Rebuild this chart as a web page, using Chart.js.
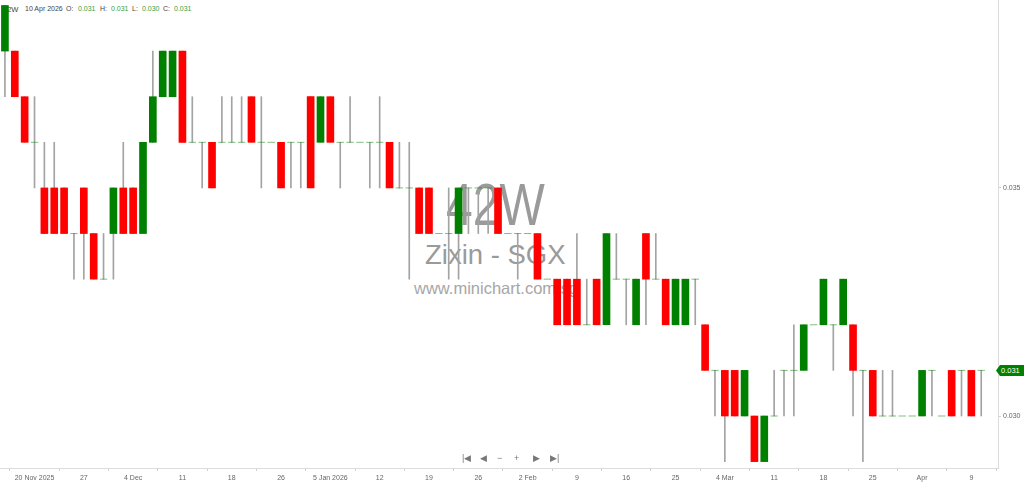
<!DOCTYPE html>
<html>
<head>
<meta charset="utf-8">
<script src="https://cdn.jsdelivr.net/npm/chart.js@4.4.1/dist/chart.umd.min.js"></script>
<style>
  html, body { margin: 0; padding: 0; background: #fff; overflow: hidden; }
  #wrap { position: relative; width: 1024px; height: 484px; font-family: "Liberation Sans", Arial, sans-serif; }
  #chartBox { position: absolute; left: 0; top: 0; width: 1024px; height: 484px; z-index: 2; }
  .wm { position: absolute; z-index: 1; color: #9a9a9a; white-space: nowrap; }
  .hdr { position: absolute; z-index: 1; top: 5px; font-size: 7px; color: #444; white-space: nowrap; }
  .hdr.v { color: #3c9c3c; }
  .nav { position: absolute; z-index: 3; top: 453px; font-size: 9px; color: #777; }
  #tag { position: absolute; z-index: 3; left: 996px; width: 28px; height: 11px; background: #008000; color: #fff;
         font-size: 7.5px; line-height: 11px; padding-left: 5px; box-sizing: border-box;
         clip-path: polygon(0 50%, 4px 0, 100% 0, 100% 100%, 4px 100%); }
</style>
</head>
<body>
<div id="wrap">
  <!-- watermark + header sit under the transparent canvas -->
  <div class="wm" style="left:446px; top:170px; font-size:60px; transform:scaleX(0.8); transform-origin:left;">42W</div>
  <div class="wm" style="left:425px; top:239px; font-size:27.5px;">Zixin - SGX</div>
  <div class="wm" style="left:414px; top:279px; font-size:16.5px; color:#a6a6a6;">www.minichart.com.sg</div>

  <span class="hdr" style="left:3px; font-size:7.5px;">42W</span>
  <span class="hdr" style="left:25px;">10 Apr 2026</span>
  <span class="hdr" style="left:66px;">O:</span>
  <span class="hdr v" style="left:78px;">0.031</span>
  <span class="hdr" style="left:100px;">H:</span>
  <span class="hdr v" style="left:111px;">0.031</span>
  <span class="hdr" style="left:132px;">L:</span>
  <span class="hdr v" style="left:142px;">0.030</span>
  <span class="hdr" style="left:163px;">C:</span>
  <span class="hdr v" style="left:174px;">0.031</span>

  <div id="chartBox"><canvas id="candles"></canvas></div>

  <span class="nav" style="left:462px;">|◀</span>
  <span class="nav" style="left:480px;">◀</span>
  <span class="nav" style="left:497px;">−</span>
  <span class="nav" style="left:514px;">+</span>
  <span class="nav" style="left:533px;">▶</span>
  <span class="nav" style="left:550px;">▶|</span>

  <div id="tag">0.031</div>
</div>

<script>
  // trading days, 17 Nov 2025 .. 10 Apr 2026
  const dates = [
    '17 Nov','18 Nov','19 Nov','20 Nov','21 Nov','24 Nov','25 Nov','26 Nov','27 Nov','28 Nov',
    '1 Dec','2 Dec','3 Dec','4 Dec','5 Dec','8 Dec','9 Dec','10 Dec','11 Dec','12 Dec',
    '15 Dec','16 Dec','17 Dec','18 Dec','19 Dec','22 Dec','23 Dec','24 Dec','26 Dec','29 Dec',
    '30 Dec','31 Dec','2 Jan','5 Jan','6 Jan','7 Jan','8 Jan','9 Jan','12 Jan','13 Jan',
    '14 Jan','15 Jan','16 Jan','19 Jan','20 Jan','21 Jan','22 Jan','23 Jan','26 Jan','27 Jan',
    '28 Jan','29 Jan','30 Jan','2 Feb','3 Feb','4 Feb','5 Feb','6 Feb','9 Feb','10 Feb',
    '11 Feb','12 Feb','13 Feb','16 Feb','19 Feb','20 Feb','23 Feb','24 Feb','25 Feb','26 Feb',
    '27 Feb','2 Mar','3 Mar','4 Mar','5 Mar','6 Mar','9 Mar','10 Mar','11 Mar','12 Mar',
    '13 Mar','16 Mar','17 Mar','18 Mar','19 Mar','20 Mar','23 Mar','24 Mar','25 Mar','26 Mar',
    '27 Mar','30 Mar','31 Mar','1 Apr','2 Apr','6 Apr','7 Apr','8 Apr','9 Apr','10 Apr'
  ];

  const open = [
    .038,.038,.037,.036,.035,.035,.035,.034,.035,.034,
    .033,.034,.035,.035,.034,.036,.037,.037,.038,.036,
    .036,.036,.036,.036,.036,.037,.036,.036,.036,.036,
    .036,.037,.036,.037,.036,.036,.036,.036,.036,.036,
    .035,.035,.035,.035,.034,.034,.034,.035,.035,.035,
    .035,.034,.034,.034,.034,.033,.033,.033,.033,.032,
    .033,.032,.033,.033,.032,.034,.033,.033,.032,.032,
    .033,.032,.031,.031,.031,.030,.030,.029,.030,.031,
    .031,.031,.032,.032,.032,.032,.032,.031,.031,.030,
    .030,.030,.030,.030,.031,.030,.031,.031,.031,.031
  ];
  const high = [
    .039,.038,.037,.037,.036,.036,.035,.034,.035,.034,
    .034,.035,.036,.035,.036,.038,.038,.038,.038,.037,
    .036,.036,.037,.037,.037,.037,.037,.036,.036,.036,
    .036,.037,.037,.037,.036,.037,.036,.036,.037,.036,
    .036,.036,.035,.035,.034,.035,.035,.035,.035,.035,
    .035,.034,.034,.034,.034,.033,.033,.033,.034,.033,
    .033,.034,.034,.033,.033,.034,.034,.033,.033,.033,
    .033,.032,.031,.031,.031,.031,.030,.030,.031,.031,
    .032,.032,.032,.033,.032,.033,.032,.031,.031,.031,
    .031,.030,.030,.031,.031,.030,.031,.031,.031,.031
  ];
  const low = [
    .037,.037,.036,.035,.034,.034,.034,.033,.033,.033,
    .033,.033,.034,.034,.034,.036,.037,.037,.036,.036,
    .035,.035,.036,.036,.036,.036,.035,.036,.035,.035,
    .035,.035,.036,.036,.035,.036,.036,.035,.035,.035,
    .035,.033,.034,.034,.034,.033,.033,.034,.034,.034,
    .034,.034,.033,.034,.033,.033,.032,.032,.032,.032,
    .032,.032,.033,.032,.032,.032,.033,.032,.032,.032,
    .032,.031,.030,.029,.030,.030,.029,.029,.030,.030,
    .030,.031,.032,.032,.031,.032,.030,.029,.030,.030,
    .030,.030,.030,.030,.030,.030,.030,.030,.030,.030
  ];
  const close = [
    .039,.037,.036,.036,.034,.034,.034,.034,.034,.033,
    .033,.035,.034,.034,.036,.037,.038,.038,.036,.036,
    .036,.035,.036,.036,.036,.036,.036,.036,.035,.036,
    .036,.035,.037,.036,.036,.036,.036,.036,.036,.035,
    .035,.035,.034,.034,.034,.034,.035,.035,.035,.035,
    .034,.034,.034,.034,.033,.033,.032,.032,.032,.032,
    .032,.034,.033,.033,.033,.033,.033,.032,.033,.033,
    .033,.031,.031,.030,.030,.031,.029,.030,.030,.031,
    .031,.032,.032,.033,.032,.033,.031,.031,.030,.030,
    .030,.030,.030,.031,.031,.030,.030,.031,.030,.031
  ];

  const tickIdx = [3, 8, 13, 18, 23, 28, 33, 38, 43, 48, 53, 58, 63, 68, 73, 78, 83, 88, 93, 98];
  const tickLabels = ['20 Nov 2025', '27', '4 Dec', '11', '18', '26', '5 Jan 2026', '12', '19', '26',
                      '2 Feb', '9', '16', '25', '4 Mar', '11', '18', '25', 'Apr', '9'];
  const priceTicks = [0.030, 0.035];

  const UP = '#008000', DOWN = '#ff0000', WICK = '#a3a3a3', FLAT = 'rgba(0,128,0,0.5)';

  // build the three layers: wicks, bodies, flat (open == close) marks
  const wickData = [], bodyData = [], bodyColors = [], flatData = [];
  dates.forEach((d, i) => {
    if (high[i] > low[i]) wickData.push({ x: i, y: [low[i], high[i]] });
    if (open[i] !== close[i]) {
      bodyData.push({ x: i, y: [open[i], close[i]] });
      bodyColors.push(close[i] > open[i] ? UP : DOWN);
    } else {
      flatData.push({ x: i, y: close[i] });
    }
  });

  // chart area must run edge to edge, no label padding
  function noPad(scale) {
    scale.paddingTop = 0; scale.paddingBottom = 0;
    scale.paddingLeft = 0; scale.paddingRight = 0;
  }

  const tag = document.getElementById('tag');
  const tagPlugin = {
    id: 'lastPriceTag',
    afterDraw(chart) {
      const y = chart.scales.y.getPixelForValue(close[close.length - 1]);
      tag.style.top = (y - 5.5) + 'px';
    }
  };

  const ctx = document.getElementById('candles').getContext('2d');
  new Chart(ctx, {
    type: 'bar',
    data: {
      datasets: [
        {
          type: 'bar',
          data: bodyData,
          backgroundColor: bodyColors,
          borderWidth: 0,
          barThickness: 7,
          grouped: false,
          order: 1
        },
        {
          type: 'scatter',
          data: flatData,
          pointStyle: 'line',
          radius: 3.7,
          hoverRadius: 3.7,
          borderColor: FLAT,
          borderWidth: 1,
          order: 2
        },
        {
          type: 'bar',
          data: wickData,
          backgroundColor: WICK,
          borderWidth: 0,
          barThickness: 1,
          grouped: false,
          order: 3
        }
      ]
    },
    options: {
      responsive: true,
      maintainAspectRatio: false,
      animation: false,
      events: [],
      layout: { padding: 0, autoPadding: false },
      plugins: { legend: { display: false }, tooltip: { enabled: false } },
      scales: {
        x: {
          type: 'linear',
          offset: false,
          min: -0.5,
          max: 100.7,
          afterBuildTicks: scale => { scale.ticks = tickIdx.map(v => ({ value: v })); },
          afterFit: scale => { scale.height = 16; noPad(scale); },
          ticks: {
            autoSkip: false,
            maxRotation: 0,
            padding: 3,
            color: '#666',
            font: { family: 'Liberation Sans', size: 7 },
            callback: (v, i) => tickLabels[i]
          },
          grid: { drawOnChartArea: false, tickLength: 3, color: '#cfcfcf' },
          border: { color: '#dcdcdc' }
        },
        y: {
          type: 'linear',
          position: 'right',
          min: 0.02886,
          max: 0.03912,
          afterBuildTicks: scale => { scale.ticks = priceTicks.map(v => ({ value: v })); },
          afterFit: scale => { scale.width = 26; noPad(scale); },
          ticks: {
            padding: 2,
            color: '#666',
            font: { family: 'Liberation Sans', size: 7 },
            callback: v => v.toFixed(3)
          },
          grid: { drawOnChartArea: false, tickLength: 3, color: '#cfcfcf' },
          border: { color: '#dcdcdc' }
        }
      }
    },
    plugins: [tagPlugin]
  });
</script>
</body>
</html>
